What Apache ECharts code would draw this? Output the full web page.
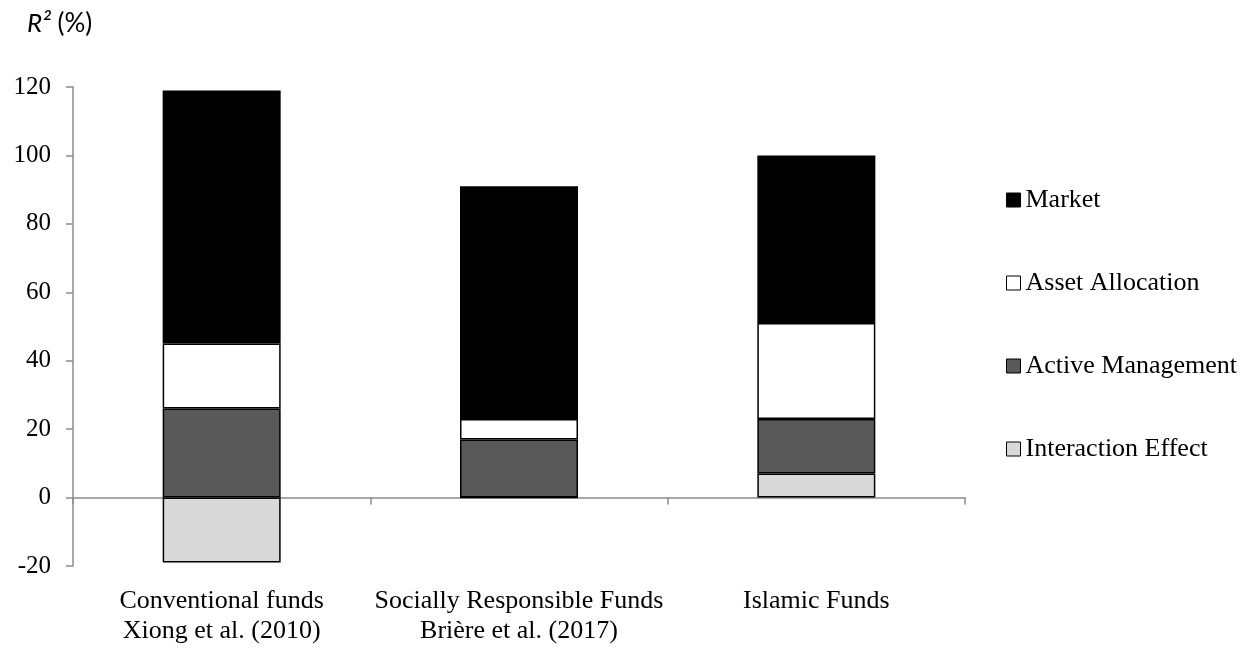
<!DOCTYPE html>
<html><head><meta charset="utf-8">
<script src="https://cdn.jsdelivr.net/npm/echarts@6/dist/echarts.min.js"></script>
<style>html,body{margin:0;padding:0;background:#fff}#c{width:1258px;height:653px}</style>
</head><body><div id="c"></div>
<script>
const categories = ['Conventional funds\nXiong et al. (2010)', 'Socially Responsible Funds\nBrière et al. (2017)', 'Islamic Funds'];
const interaction = [-19, 0, 7];
const activeMgmt = [26, 17, 16];
const assetAlloc = [19, 6, 28];
const market = [74, 68, 49];
const yTicks = { min: -20, max: 120, interval: 20 };

const serif = 'Liberation Serif';
const chart = echarts.init(document.getElementById('c'));
function s(name, data, color) {
  return { name, type: 'bar', stack: 'r2', data, barWidth: 118, xAxisIndex: 0,
    itemStyle: { color, borderColor: '#000', borderWidth: 1.5 } };
}
chart.setOption({
  animation: false,
  grid: { left: 73, right: 293, top: 87, bottom: 87 },
  graphic: [{ type: 'text', left: 27, top: 11,
    style: { text: '{i|R²}{n| (%)}', rich: { i: { fontStyle: 'italic', fontFamily: 'Lato', fontSize: 26, fill: '#000' }, n: { fontFamily: 'Lato', fontSize: 26, fill: '#000' } } } }],
  legend: {
    orient: 'vertical', left: 1001, top: 182, itemGap: 57, itemWidth: 14, itemHeight: 14,
    icon: 'rect', textStyle: { fontFamily: serif, fontSize: 26, color: '#000' },
    data: ['Market', 'Asset Allocation', 'Active Management', 'Interaction Effect'].map(n => ({ name: n, itemStyle: { borderColor: '#000', borderWidth: 1 } }))
  },
  xAxis: [{
    type: 'category', data: categories, position: 'bottom',
    axisLine: { onZero: true, lineStyle: { color: '#8c8c8c', width: 1.5 } },
    axisTick: { show: true, length: 7, lineStyle: { color: '#8c8c8c', width: 1.5 } },
    axisLabel: { show: false }
  }, {
    type: 'category', data: categories, position: 'bottom',
    axisLine: { show: false, onZero: false }, axisTick: { show: false },
    axisLabel: { interval: 0, fontFamily: serif, fontSize: 26, color: '#000', lineHeight: 30, margin: 20 }
  }],
  yAxis: {
    type: 'value', min: yTicks.min, max: yTicks.max, interval: yTicks.interval,
    splitLine: { show: false },
    axisLine: { show: true, lineStyle: { color: '#8c8c8c', width: 1.5 } },
    axisTick: { show: true, length: 7, lineStyle: { color: '#8c8c8c', width: 1.5 } },
    axisLabel: { fontFamily: serif, fontSize: 25, color: '#000', margin: 22 }
  },
  series: [
    s('Interaction Effect', interaction, '#d9d9d9'),
    s('Active Management', activeMgmt, '#595959'),
    s('Asset Allocation', assetAlloc, '#ffffff'),
    s('Market', market, '#000000')
  ]
});
</script></body></html>
